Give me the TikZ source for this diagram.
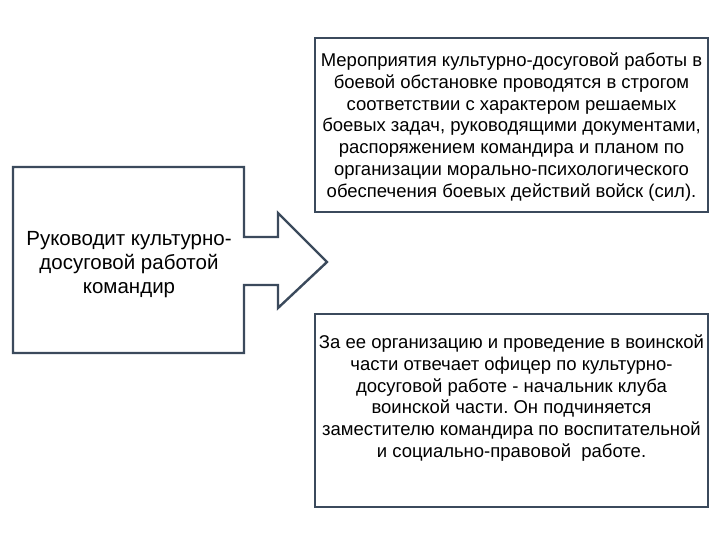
\documentclass[tikz,border=0pt]{standalone}
\usepackage{fontspec}
\setmainfont{Liberation Sans}
\frenchspacing
\definecolor{edgec}{HTML}{3B4A5C}
\begin{document}
\begin{tikzpicture}[x=1pt,y=-1pt,
  boxline/.style={draw=edgec,line width=2.4pt,line join=miter},
  txt/.style={align=center,inner sep=0pt,font=\fontsize{18.5}{21.8}\selectfont},
  bigtxt/.style={align=center,inner sep=0pt,font=\fontsize{20.5}{24}\selectfont}]
\useasboundingbox (0,0) rectangle (720,540);
% left callout with arrow
\draw[boxline] (13,167) -- (244,167) -- (244,237) -- (278,237) -- (278,213) -- (327,262)
  -- (278,308) -- (278,285) -- (244,285) -- (244,353) -- (13,353) -- cycle;
\node[bigtxt] (lead) at (129,265) {Руководит культурно-\\досуговой работой\\командир};
% top box
\node[boxline,minimum width=393pt,minimum height=174pt,inner sep=0pt] (top) at (511.5,125) {};
\node[txt] (toptxt) at (511.5,127) {Мероприятия культурно-досуговой работы в\\боевой обстановке проводятся в строгом\\соответствии с характером решаемых\\боевых задач, руководящими документами,\\распоряжением командира и планом по\\организации морально-психологического\\обеспечения боевых действий войск (сил).};
% bottom box
\node[boxline,minimum width=393pt,minimum height=193pt,inner sep=0pt] (bot) at (511.5,410.5) {};
\node[txt] (bottxt) at (511.5,398) {За ее организацию и проведение в воинской\\части отвечает офицер по культурно-\\досуговой работе - начальник клуба\\воинской части. Он подчиняется\\заместителю командира по воспитательной\\и социально-правовой\ \ работе.};
\end{tikzpicture}
\end{document}
